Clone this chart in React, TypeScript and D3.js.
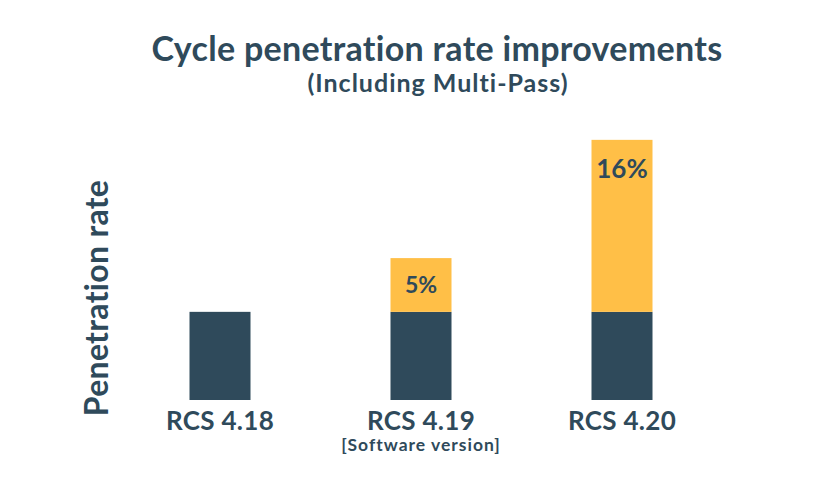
import * as d3 from "d3";

const versions = ["RCS 4.18", "RCS 4.19", "RCS 4.20"];
const baseRate = [8.2, 8.2, 8.2];
const gain = [0, 5, 16];
const gainLabels = ["", "5%", "16%"];

const W = 819;
const H = 504;
const dark = "#2f4a5b";
const yellow = "#ffbf47";
const font = "Lato, 'Open Sans', sans-serif";

export default function App() {
  const x = d3.scalePoint<string>().domain(versions).range([220, 622]);
  const y = d3.scaleLinear().domain([0, 30]).range([400, 400 - 30 * 10.75]);
  const barW = 61;

  return (
    <svg width={W} height={H} style={{ position: "absolute", left: 0, top: 0, background: "#fff" }}>
      <text x={437} y={61} textAnchor="middle" fontFamily={font} fontWeight={700} fontSize={34} letterSpacing={0.3} fill={dark}>
        Cycle penetration rate improvements
      </text>
      <text x={438} y={92} textAnchor="middle" fontFamily={font} fontWeight={700} fontSize={25} letterSpacing={1} fill={dark}>
        (Including Multi-Pass)
      </text>
      <text
        transform="translate(108,298) rotate(-90)"
        textAnchor="middle"
        fontFamily={font}
        fontWeight={700}
        fontSize={32}
        letterSpacing={0.3}
        fill={dark}
      >
        Penetration rate
      </text>
      {versions.map((v, i) => {
        const cx = x(v) as number;
        const top = y(baseRate[i] + gain[i]);
        return (
          <g key={v}>
            <rect x={cx - barW / 2} y={y(baseRate[i])} width={barW} height={y(0) - y(baseRate[i])} fill={dark} />
            {gain[i] > 0 && (
              <rect x={cx - barW / 2} y={top} width={barW} height={y(baseRate[i]) - top} fill={yellow} />
            )}
            {gainLabels[i] && (
              <text
                x={cx}
                y={top + (i === 2 ? 38 : 35)}
                textAnchor="middle"
                fontFamily={font}
                fontWeight={700}
                fontSize={i === 2 ? 26 : 23}
                fill={dark}
              >
                {gainLabels[i]}
              </text>
            )}
            <text x={cx} y={430} textAnchor="middle" fontFamily={font} fontWeight={700} fontSize={26} letterSpacing={0.3} fill={dark}>
              {v}
            </text>
          </g>
        );
      })}
      <text x={x(versions[1]) as number} y={451} textAnchor="middle" fontFamily={font} fontWeight={700} fontSize={17.5} letterSpacing={1} fill={dark}>
        [Software version]
      </text>
    </svg>
  );
}
